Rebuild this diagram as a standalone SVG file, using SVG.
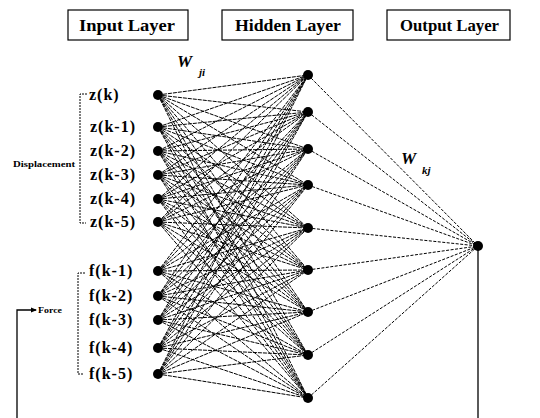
<svg xmlns="http://www.w3.org/2000/svg" width="540" height="418" viewBox="0 0 540 418">
<defs>
<style>
.box{fill:#fff;stroke:#000;stroke-width:1.2}
.title{font-family:"Liberation Serif",serif;font-weight:bold;font-size:16px;fill:#000}
.lbl{font-family:"Liberation Serif",serif;font-weight:bold;font-size:16px;letter-spacing:1px;fill:#000}
.tiny{font-family:"Liberation Serif",serif;font-weight:bold;font-size:8px;fill:#000}
.w{font-family:"Liberation Serif",serif;font-weight:bold;font-style:italic;fill:#000}
.n{fill:#000}
.ih{fill:none;stroke:#000;stroke-width:1;stroke-dasharray:4 1}
.ho{fill:none;stroke:#000;stroke-width:1;stroke-dasharray:3 1.5}
.brk{fill:none;stroke:#000;stroke-width:1;stroke-dasharray:2 1}
.solid{fill:none;stroke:#000;stroke-width:1.3}
</style>
<marker id="arr" markerWidth="6" markerHeight="6" refX="5" refY="3" orient="auto" markerUnits="userSpaceOnUse">
<path d="M0,0.5 L6,3 L0,5.5 Z" fill="#000"/>
</marker>
</defs>
<rect width="540" height="418" fill="#fff"/>

<g id="titles">
<g id="title-input"><rect class="box" x="68" y="10" width="120" height="30"/><text class="title" x="79" y="31" textLength="96" lengthAdjust="spacingAndGlyphs">Input Layer</text></g>
<g id="title-hidden"><rect class="box" x="222" y="10" width="131" height="30"/><text class="title" x="235" y="31" textLength="106" lengthAdjust="spacingAndGlyphs">Hidden Layer</text></g>
<g id="title-output"><rect class="box" x="387" y="10" width="123" height="30"/><text class="title" x="400" y="31" textLength="99" lengthAdjust="spacingAndGlyphs">Output Layer</text></g>
</g>

<g id="connectors">
<path class="ih" d="M158,95L308,75M158,95L308,112M158,95L308,149M158,95L308,185M158,95L308,228M158,95L308,270M158,95L308,312M158,95L308,355M158,95L308,398"/>
<path class="ih" d="M158,127L308,75M158,127L308,112M158,127L308,149M158,127L308,185M158,127L308,228M158,127L308,270M158,127L308,312M158,127L308,355M158,127L308,398"/>
<path class="ih" d="M158,151L308,75M158,151L308,112M158,151L308,149M158,151L308,185M158,151L308,228M158,151L308,270M158,151L308,312M158,151L308,355M158,151L308,398"/>
<path class="ih" d="M158,175L308,75M158,175L308,112M158,175L308,149M158,175L308,185M158,175L308,228M158,175L308,270M158,175L308,312M158,175L308,355M158,175L308,398"/>
<path class="ih" d="M158,199L308,75M158,199L308,112M158,199L308,149M158,199L308,185M158,199L308,228M158,199L308,270M158,199L308,312M158,199L308,355M158,199L308,398"/>
<path class="ih" d="M158,222L308,75M158,222L308,112M158,222L308,149M158,222L308,185M158,222L308,228M158,222L308,270M158,222L308,312M158,222L308,355M158,222L308,398"/>
<path class="ih" d="M158,271L308,75M158,271L308,112M158,271L308,149M158,271L308,185M158,271L308,228M158,271L308,270M158,271L308,312M158,271L308,355M158,271L308,398"/>
<path class="ih" d="M158,296L308,75M158,296L308,112M158,296L308,149M158,296L308,185M158,296L308,228M158,296L308,270M158,296L308,312M158,296L308,355M158,296L308,398"/>
<path class="ih" d="M158,320L308,75M158,320L308,112M158,320L308,149M158,320L308,185M158,320L308,228M158,320L308,270M158,320L308,312M158,320L308,355M158,320L308,398"/>
<path class="ih" d="M158,348L308,75M158,348L308,112M158,348L308,149M158,348L308,185M158,348L308,228M158,348L308,270M158,348L308,312M158,348L308,355M158,348L308,398"/>
<path class="ih" d="M158,374L308,75M158,374L308,112M158,374L308,149M158,374L308,185M158,374L308,228M158,374L308,270M158,374L308,312M158,374L308,355M158,374L308,398"/>
<path class="ho" d="M308,75L478,246M308,112L478,246M308,149L478,246M308,185L478,246M308,228L478,246M308,270L478,246M308,312L478,246M308,355L478,246M308,398L478,246"/>
<path class="solid" d="M478,246L478,418"/>
<path class="solid" d="M17,418L17,310L36,310" marker-end="url(#arr)"/>
<path class="brk" d="M87,94L80,94L80,223L86,223"/>
<path class="brk" d="M85,273L78,273L78,374L84,374"/>
</g>

<g id="weights">
<text class="w" x="177" y="67" font-size="17">W</text><text class="w" x="199" y="76" font-size="11">ji</text>
<text class="w" x="401" y="164" font-size="17">W</text><text class="w" x="422" y="174" font-size="11">kj</text>
</g>

<g id="group-labels">
<text class="tiny" x="13" y="167" textLength="62" lengthAdjust="spacingAndGlyphs">Displacement</text>
<text class="tiny" x="38" y="313" textLength="24" lengthAdjust="spacingAndGlyphs">Force</text>
</g>

<g id="input-nodes">
<g id="in-z0"><circle class="n" cx="158" cy="95" r="5"/><text class="lbl" x="89" y="100">z(k)</text></g>
<g id="in-z1"><circle class="n" cx="158" cy="127" r="5"/><text class="lbl" x="90" y="132">z(k-1)</text></g>
<g id="in-z2"><circle class="n" cx="158" cy="151" r="5"/><text class="lbl" x="90" y="156">z(k-2)</text></g>
<g id="in-z3"><circle class="n" cx="158" cy="175" r="5"/><text class="lbl" x="90" y="180">z(k-3)</text></g>
<g id="in-z4"><circle class="n" cx="158" cy="199" r="5"/><text class="lbl" x="90" y="204">z(k-4)</text></g>
<g id="in-z5"><circle class="n" cx="158" cy="222" r="5"/><text class="lbl" x="90" y="227">z(k-5)</text></g>
<g id="in-f1"><circle class="n" cx="158" cy="271" r="5"/><text class="lbl" x="89" y="276">f(k-1)</text></g>
<g id="in-f2"><circle class="n" cx="158" cy="296" r="5"/><text class="lbl" x="89" y="301">f(k-2)</text></g>
<g id="in-f3"><circle class="n" cx="158" cy="320" r="5"/><text class="lbl" x="89" y="325">f(k-3)</text></g>
<g id="in-f4"><circle class="n" cx="158" cy="348" r="5"/><text class="lbl" x="89" y="353">f(k-4)</text></g>
<g id="in-f5"><circle class="n" cx="158" cy="374" r="5"/><text class="lbl" x="89" y="379">f(k-5)</text></g>
</g>

<g id="hidden-nodes">
<g id="h1"><circle class="n" cx="308" cy="75" r="5"/></g>
<g id="h2"><circle class="n" cx="308" cy="112" r="5"/></g>
<g id="h3"><circle class="n" cx="308" cy="149" r="5"/></g>
<g id="h4"><circle class="n" cx="308" cy="185" r="5"/></g>
<g id="h5"><circle class="n" cx="308" cy="228" r="5"/></g>
<g id="h6"><circle class="n" cx="308" cy="270" r="5"/></g>
<g id="h7"><circle class="n" cx="308" cy="312" r="5"/></g>
<g id="h8"><circle class="n" cx="308" cy="355" r="5"/></g>
<g id="h9"><circle class="n" cx="308" cy="398" r="5"/></g>
</g>

<g id="output-node"><circle class="n" cx="478" cy="246" r="5"/></g>
</svg>
